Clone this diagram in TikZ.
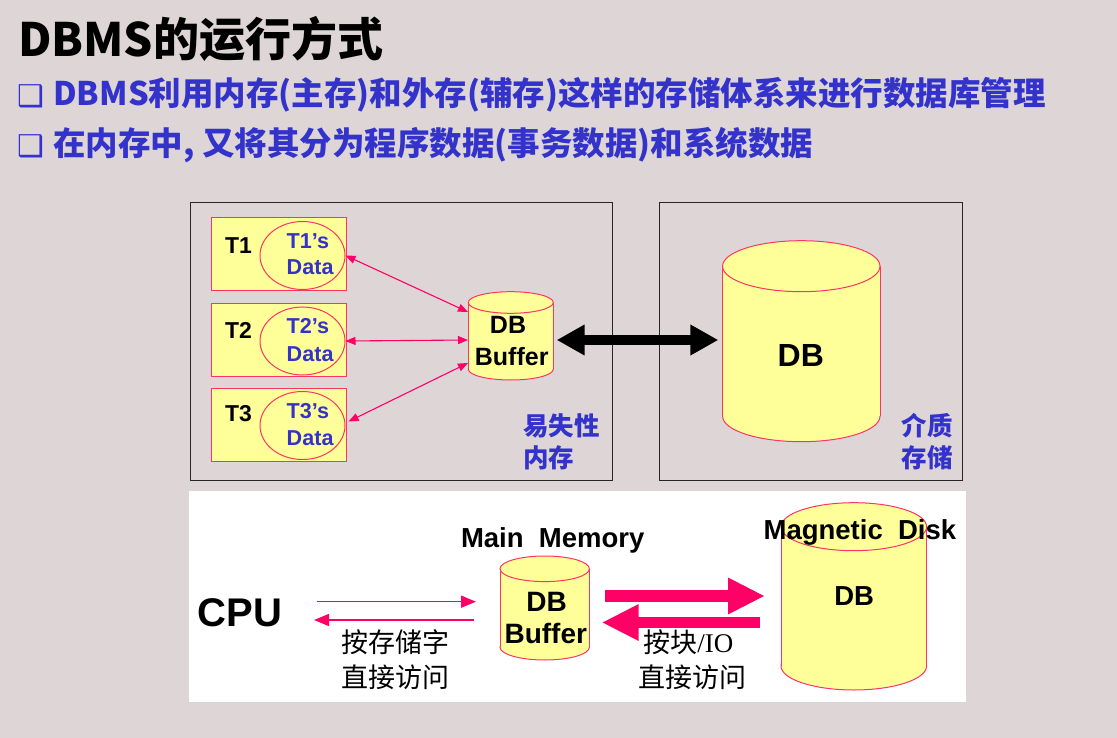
\documentclass[tikz,border=0pt]{standalone}
\usepackage{fontspec}
\setmainfont{Liberation Sans}
\newfontfamily\cjk{Noto Sans CJK SC}
\newfontfamily\symf{DejaVu Sans}
\newfontfamily\serf{Liberation Serif}
\usetikzlibrary{arrows.meta,shapes.geometric}
\definecolor{bgc}{RGB}{222,213,214}
\definecolor{yel}{RGB}{255,255,153}
\definecolor{pinkb}{RGB}{255,51,102}
\definecolor{pinka}{RGB}{255,0,102}
\definecolor{bluet}{RGB}{51,51,204}
\newcommand\fs[1]{\fontsize{#1}{#1}\selectfont}
\newcommand\mycyl[6]{%
  \fill[yel] (#2,#4) ellipse[x radius=#5pt, y radius=#6pt];
  \draw[cylb] (#2,#4) ellipse[x radius=#5pt, y radius=#6pt];
  \fill[yel] (#2-#5,#3) rectangle (#2+#5,#4);
  \draw[cylb] (#2-#5,#3) -- (#2-#5,#4) (#2+#5,#3) -- (#2+#5,#4);
  \draw[cylb,fill=yel] (#2,#3) ellipse[x radius=#5pt, y radius=#6pt];
  \coordinate (#1) at (#2,{(#3+#4)/2});
}
\tikzset{
  txt/.style={inner sep=0pt, outer sep=0pt},
  cylb/.style={draw=pinkb, line width=1pt},
  tbox/.style={draw=pinkb, fill=yel, line width=1pt, inner sep=0pt, minimum width=135pt, minimum height=73pt, anchor=north west},
  tell/.style={draw=pinkb, ellipse, line width=1pt, inner sep=0pt, minimum width=85pt, minimum height=68pt},
  frame/.style={draw=black!85, line width=1pt, inner sep=0pt, anchor=north west},
  thinarrow/.style={draw=pinka, line width=1.1pt, {Triangle[length=10pt,width=8pt]}-{Triangle[length=10pt,width=8pt]}},
  lowthin/.style={draw=pinka, line width=1.5pt, -{Triangle[length=15pt,width=12pt]}},
  lowthick/.style={draw=pinka, line width=11.7pt, -{Triangle[length=37pt,width=34pt]}},
  bigarrow/.style={draw=black, line width=10pt, {Triangle[length=28pt,width=29pt]}-{Triangle[length=28pt,width=29pt]}},
  blab/.style={txt, anchor=base west, text=bluet, font=\cjk\bfseries\fs{25.5}},
}
\begin{document}
\begin{tikzpicture}[x=1pt,y=-1pt]
\useasboundingbox (0,0) rectangle (1117,738);
\fill[bgc] (0,0) rectangle (1117,738);

% title and bullets
\node[txt, anchor=base west] (title) at (18,56.7) {\cjk\bfseries\fs{46}DBMS的运行方式};
\node[txt, anchor=base west, text=bluet] (bul1) at (17,106.5) {\symf\fs{30}❑};
\node[txt, anchor=base west, text=bluet] (line1) at (53.3,106) {\cjk\bfseries\fs{32.5}DBMS利用内存(主存)和外存(辅存)这样的存储体系来进行数据库管理};
\node[txt, anchor=base west, text=bluet] (bul2) at (17,156.5) {\symf\fs{30}❑};
\node[txt, anchor=base west, text=bluet] (line2) at (53.3,156) {\cjk\bfseries\fs{32.5}在内存中, 又将其分为程序数据(事务数据)和系统数据};

% upper frames
\node[frame, minimum width=422pt, minimum height=278pt] (mem) at (190,202) {};
\node[frame, minimum width=303pt, minimum height=278pt] (stor) at (659,202) {};

% transactions
\node[tbox] (t1) at (211,217) {};
\node[tbox] (t2) at (211,303.3) {};
\node[tbox] (t3) at (211,388.3) {};
\node[tell] (e1) at (302.5,255.5) {};
\node[tell] (e2) at (302.5,341) {};
\node[tell] (e3) at (302.5,425.5) {};
\node[txt, anchor=base west, font=\bfseries\fs{23}] (t1l) at (225,253.3) {T1};
\node[txt, anchor=base west, font=\bfseries\fs{23}] (t2l) at (225,338.3) {T2};
\node[txt, anchor=base west, font=\bfseries\fs{23}] (t3l) at (225,421.7) {T3};
\node[txt, anchor=base west, text=bluet, font=\bfseries\fs{21.6}] (d1a) at (286.7,248.3) {T1’s};
\node[txt, anchor=base west, text=bluet, font=\bfseries\fs{21.6}] (d1b) at (286.7,275) {Data};
\node[txt, anchor=base west, text=bluet, font=\bfseries\fs{21.6}] (d2a) at (286.7,333.3) {T2’s};
\node[txt, anchor=base west, text=bluet, font=\bfseries\fs{21.6}] (d2b) at (286.7,361.7) {Data};
\node[txt, anchor=base west, text=bluet, font=\bfseries\fs{21.6}] (d3a) at (286.7,418.3) {T3’s};
\node[txt, anchor=base west, text=bluet, font=\bfseries\fs{21.6}] (d3b) at (286.7,445) {Data};

% upper buffer
\mycyl{ubuf}{510.8}{302.5}{369.2}{42.5}{10.8}
\node[txt, anchor=base, font=\bfseries\fs{25}] (ubuf1) at (508,333.3) {DB};
\node[txt, anchor=base, font=\bfseries\fs{25}] (ubuf2) at (511.7,365) {Buffer};
\coordinate (ub1) at (468,312);
\coordinate (ub2) at (468,340);
\coordinate (ub3) at (468,363);
\coordinate (ubR) at (556.7,340);

\draw[thinarrow] (e1.east) -- (ub1);
\draw[thinarrow] (e2.east) -- (ub2);
\draw[thinarrow] ([shift={(3,-4)}]e3.east) -- (ub3);

% upper DB
\mycyl{udb}{801.3}{266.2}{416.2}{78.7}{25.5}
\node[txt, anchor=base, font=\bfseries\fs{32}] (udbl) at (800.8,366.7) {DB};
\coordinate (udbL) at (718.3,340);
\draw[bigarrow] (ubR) -- (udbL);

\node[blab] (vol1) at (523.3,435.3) {易失性};
\node[blab] (vol2) at (523.3,467) {内存};
\node[blab] (med1) at (901.7,435.3) {介质};
\node[blab] (med2) at (901.7,467) {存储};

% lower panel
\node[fill=white, inner sep=0pt, anchor=north west, minimum width=777pt, minimum height=211pt] (panel) at (189,491) {};

\node[txt, anchor=base west, font=\bfseries\fs{40}] (cpu) at (197.5,626.7) {CPU};
\node[txt, anchor=base west, font=\bfseries\fs{27.5}] (mm) at (461,547.3) {Main\ \ Memory};

\mycyl{lbuf}{544.7}{568.8}{647.2}{44.7}{12.8}
\node[txt, anchor=base, font=\bfseries\fs{28}] (lbuf1) at (546.7,611.7) {DB};
\node[txt, anchor=base, font=\bfseries\fs{28}] (lbuf2) at (545.8,643) {Buffer};

\mycyl{ldisk}{853.8}{526.7}{666}{72.8}{24}
\node[txt, anchor=base west, font=\bfseries\fs{27.5}] (md) at (763.6,539) {Magnetic\ \ Disk};
\node[txt, anchor=base, font=\bfseries\fs{27.5}] (ldbl) at (854.2,605) {DB};

\coordinate (cpuA) at (317,601.7);
\coordinate (bufA) at (476,601.7);
\coordinate (bufB) at (473.6,620);
\coordinate (cpuB) at (314,620);
\draw[lowthin] (cpuA) -- (bufA);
\draw[lowthin] (bufB) -- (cpuB);

\coordinate (bufC) at (605,596);
\coordinate (diskC) at (765,596);
\coordinate (diskD) at (760,622.5);
\coordinate (bufD) at (601.7,622.5);
\draw[lowthick] (bufC) -- (diskC);
\draw[lowthick] (diskD) -- (bufD);

\node[txt, anchor=base west, font=\cjk\fs{27}] (acc1) at (341.7,652) {按存储字};
\node[txt, anchor=base west, font=\cjk\fs{27}] (acc2) at (341.7,687) {直接访问};
\node[txt, anchor=base west, font=\cjk\fs{27}] (acc3) at (643.3,652) {按块{\serf/IO}};
\node[txt, anchor=base west, font=\cjk\fs{27}] (acc4) at (638.3,687) {直接访问};
\end{tikzpicture}
\end{document}
